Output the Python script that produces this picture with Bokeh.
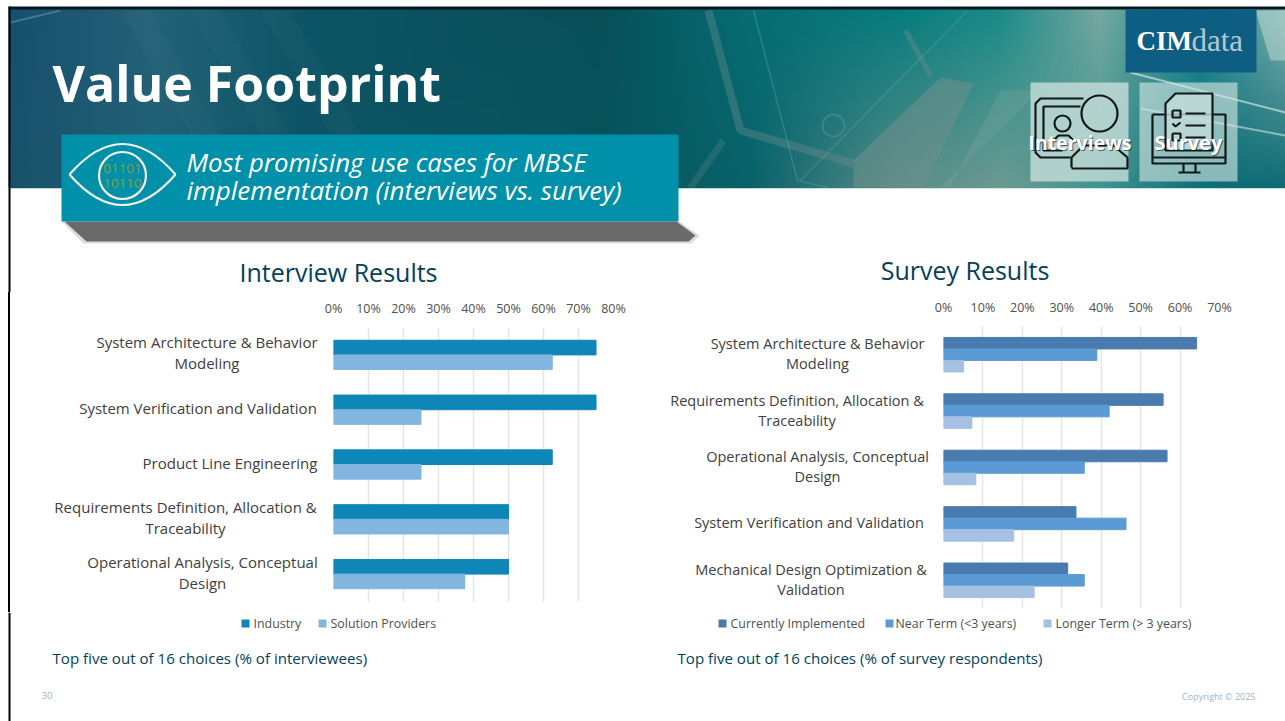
import numpy as np
from bokeh.embed import file_html
from bokeh.layouts import column, row
from bokeh.models import ColumnDataSource, FactorRange, FixedTicker, PrintfTickFormatter, Range1d, Spacer
from bokeh.plotting import figure
from bokeh.resources import INLINE
from bokeh.transform import dodge

# ---------- data ----------
interview_categories = ["System Architecture & Behavior\nModeling", "System Verification and Validation",
                        "Product Line Engineering", "Requirements Definition, Allocation &\nTraceability",
                        "Operational Analysis, Conceptual\nDesign"]
industry = [75, 75, 62.5, 50, 50]
solution_providers = [62.5, 25, 25, 50, 37.5]

survey_categories = ["System Architecture & Behavior\nModeling", "Requirements Definition, Allocation &\nTraceability",
                     "Operational Analysis, Conceptual\nDesign", "System Verification and Validation",
                     "Mechanical Design Optimization &\nValidation"]
currently_implemented = [64.2, 55.7, 56.7, 33.6, 31.5]
near_term = [38.9, 42.0, 35.7, 46.3, 35.7]
longer_term = [5.1, 7.2, 8.2, 17.8, 23.0]

interview_ticks = [0, 10, 20, 30, 40, 50, 60, 70, 80]
survey_ticks = [0, 10, 20, 30, 40, 50, 60, 70]

# ---------- style ----------
FONT = "Open Sans"
W, H = 1285, 721
HEADER_B, ROW_B = 292, 612
TEXT = "#404040"
LEG = "#505050"
NAVY = "#03415A"
GRID = "#E4E6E8"
C_IND, C_SOL = "#0F86B8", "#82B5DF"
C_CUR, C_NEAR, C_LONG = "#4A7BAE", "#5B9BD5", "#A6C0E3"


def canvas(x0, x1, y0, y1):
    p = figure(width=x1 - x0, height=y1 - y0, x_range=Range1d(x0, x1), y_range=Range1d(y1, y0),
               x_axis_type=None, y_axis_type=None, toolbar_location=None, output_backend="svg",
               min_border=0, outline_line_color=None)
    p.grid.visible = False
    return p


def txt(p, x, y, s, size, color="#ffffff", style="normal", font=FONT, align="left", alpha=1.0, lh=1.2, dy=0):
    p.text([x], [y], text=[s], text_font=dict(value=font), text_font_size=dict(value=f"{size}px"),
           text_font_style=style, text_color=color, text_align=align, text_baseline="middle", text_alpha=alpha,
           text_line_height=lh, y_offset=dy)


def edge(p, y0, y1):
    p.patch([8, 10, 10, 8], [y0, y0, y1, y1], color="#000000", line_color=None)


# ---------- header ----------
head = canvas(0, W, 0, HEADER_B)
xs = np.array([8, 150, 300, 450, 600, 750, 900, 1000, 1100, 1200, 1285])
top_c = np.array([[0x17, 0x4f, 0x6e], [0x24, 0x62, 0x78], [0x0d, 0x55, 0x66], [0x0b, 0x51, 0x60], [0x08, 0x4f, 0x58],
                  [0x06, 0x6d, 0x74], [0x07, 0x7c, 0x7e], [0x1a, 0x8b, 0x88], [0x76, 0xa8, 0xa0], [0x1b, 0x8a, 0x90],
                  [0x7f, 0xb0, 0xae]], float)
bot_c = np.array([[0x18, 0x52, 0x6a], [0x22, 0x60, 0x76], [0x0d, 0x55, 0x66], [0x0b, 0x55, 0x62], [0x08, 0x55, 0x5c],
                  [0x08, 0x62, 0x6a], [0x5a, 0x8c, 0x88], [0x6c, 0x9a, 0x92], [0x3f, 0x95, 0x90], [0x0f, 0x70, 0x78],
                  [0x0f, 0x6a, 0x74]], float)
px = np.arange(8, W, 4)
ny = 45
img = np.zeros((ny, len(px)), dtype=np.uint32)
view = img.view(dtype=np.uint8).reshape((ny, len(px), 4))
for ch in range(3):
    t_row = np.interp(px, xs, top_c[:, ch])
    b_row = np.interp(px, xs, bot_c[:, ch])
    for j in range(ny):
        view[j, :, ch] = (t_row + (b_row - t_row) * j / (ny - 1)).astype(np.uint8)
view[:, :, 3] = 255
head.image_rgba(image=[img], x=8, y=8, dw=W - 8, dh=180)

# streaks in the photo
band = "#6f8f8c"
head.patch([853, 940, 973, 923, 853], [160, 77, 83, 187, 187], color=band, alpha=0.55, line_color=None)
head.patch([940, 1040, 1000, 950], [187, 90, 90, 187], color="#7fa59e", alpha=0.3, line_color=None)
head.line([708, 740, 853], [10, 130, 163], color=band, alpha=0.38, line_width=8)
head.line([723, 690], [140, 187], color=band, alpha=0.25, line_width=7)
head.line([753, 797, 827], [10, 180, 187], color="#5fa0a0", alpha=0.4, line_width=1.5)
head.line([967, 800], [10, 180], color="#5fa0a0", alpha=0.4, line_width=1.5)
head.line([905, 930], [30, 75], color=band, alpha=0.4, line_width=5)
head.circle([833], [125], radius=11, fill_color=None, line_color="#5fa0a0", line_alpha=0.5, line_width=1.5)
head.line([10, 60], [22, 10], color="#6a9db0", alpha=0.5, line_width=2)
for x0 in (120, 190, 260):
    head.patch([x0, x0 + 30, x0 + 130, x0 + 100], [10, 10, 187, 187], color="#7aa5b0", alpha=0.05, line_color=None)
head.line([1130, 1285], [72, 112], color="#cfe3e0", alpha=0.7, line_width=2)
head.line([1140, 1285], [108, 135], color="#cfe3e0", alpha=0.6, line_width=2)
head.patch([1255, 1285, 1285, 1270], [10, 10, 60, 60], color="#c5ddd8", alpha=0.5, line_color=None)

# black slide edge, white lower part
head.patch([8, W, W, 8], [6, 6, 9, 9], color="#04181f", line_color=None)
head.patch([8, W, W, 8], [188, 188, HEADER_B, HEADER_B], color="#ffffff", line_color=None)
edge(head, 6, HEADER_B)

txt(head, 52, 82, "Value Footprint", 50, style="bold")

# shadow + teal box
head.patch([61, 679, 699, 691, 83], [221, 221, 235, 243, 243], color="#8a8a8a", alpha=0.3, line_color=None)
head.patch([64, 676, 695, 688, 86], [221, 221, 235, 241, 241], color="#6a6a6a", line_color=None)
head.patch([61, 678, 678, 61], [134, 134, 221, 221], color="#0090A9", line_color=None)
txt(head, 186, 161, "Most promising use cases for MBSE", 25.8, style="italic")
txt(head, 186, 189, "implementation (interviews vs. survey)", 26, style="italic")

# eye
head.quadratic([69, 69], [174, 174], [175, 175], [174, 174], [122, 122], [113, 235],
               line_color="#f3f3ee", line_width=2.2)
head.circle([122], [175], radius=23.5, fill_color=None, line_color="#f3f3ee", line_width=2.2)
txt(head, 122, 168, "01101", 13.5, color="#8f9a3a", align="center")
txt(head, 122, 183, "10110", 13.5, color="#8f9a3a", align="center")

# CIMdata logo
head.patch([1125, 1256, 1256, 1125], [9, 9, 72, 72], color="#0E5D83", line_color=None)
txt(head, 1136, 40, "CIM", 27, style="bold", font="Liberation Serif")
txt(head, 1191, 40, "data", 31, color="#b4c8d2", font="Liberation Serif")

# icon tiles
head.patch([1030, 1128, 1128, 1030], [82, 82, 181, 181], color="#d5e6e2", alpha=0.72, line_color=None)
head.patch([1139, 1237, 1237, 1139], [82, 82, 181, 181], color="#d5e6e2", alpha=0.62, line_color=None)
ICON = dict(line_color="#101818", line_width=2.2)
head.line([1083, 1040, 1035, 1035, 1040, 1070], [98, 98, 103, 152, 157, 157], **ICON)
head.line([1080, 1043, 1043, 1062], [106, 106, 150, 150], **ICON)
head.circle([1099], [113], radius=18, fill_color=None, **ICON)
head.circle([1062], [123], radius=8, fill_color=None, **ICON)
head.line([1051, 1051, 1058, 1068, 1074], [150, 142, 135, 135, 141], **ICON)
head.line([1071, 1071, 1083, 1113, 1127, 1127, 1071], [167, 157, 145, 145, 157, 168, 168], **ICON)
head.line([1152, 1225, 1225, 1152, 1152], [114, 114, 163, 163, 114], **ICON)
head.line([1152, 1225], [157, 157], **ICON)
head.line([1183, 1183], [163, 172], **ICON)
head.line([1195, 1195], [163, 172], **ICON)
head.line([1178, 1200], [172, 172], **ICON)
head.patch([1175, 1212, 1212, 1165, 1165], [93, 93, 150, 150, 103], fill_color="#c3dcd8", fill_alpha=0.8, **ICON)
head.line([1172, 1180, 1180, 1172, 1172], [110, 110, 117, 117, 110], **ICON)
head.line([1172, 1180, 1180, 1172, 1172], [133, 133, 140, 140, 133], **ICON)
head.line([1172, 1175, 1180], [123, 126, 122], **ICON)
for yy in (113, 125, 137):
    head.line([1185, 1205], [yy, yy], **ICON)
for x0, s, sz in ((1028, "Interviews", 19.5), (1154, "Survey", 20)):
    txt(head, x0 + 1, 143, s, sz, color="#000000", style="bold", alpha=0.55)
    txt(head, x0, 142, s, sz, style="bold")

# chart titles
txt(head, 338, 271, "Interview Results", 25, color=NAVY, align="center")
txt(head, 964.5, 269, "Survey Results", 25, color=NAVY, align="center")


# ---------- charts ----------
def chart(width, fleft, fright, ftop, fbottom, cats, ticks, xmax, standoff):
    p = figure(width=width, height=ROW_B - HEADER_B, x_range=Range1d(0, xmax),
               y_range=FactorRange(factors=cats[::-1]), x_axis_location="above",
               toolbar_location=None, output_backend="svg", outline_line_color=None,
               min_border_left=fleft, min_border_right=fright, min_border_top=ftop, min_border_bottom=fbottom)
    p.yaxis.visible = False
    p.ygrid.visible = False
    ax = p.xaxis[0]
    ax.ticker = FixedTicker(ticks=ticks)
    ax.formatter = PrintfTickFormatter(format="%d%%")
    ax.axis_line_color = None
    ax.major_tick_line_color = None
    ax.minor_tick_line_color = None
    ax.major_tick_out = 0
    ax.major_label_standoff = standoff
    ax.major_label_text_font = FONT
    ax.major_label_text_font_size = "12.5px"
    ax.major_label_text_color = LEG
    p.xgrid.ticker = FixedTicker(ticks=ticks)
    p.xgrid.grid_line_color = GRID
    p.xgrid.grid_line_width = 1.5
    return p


def label_panel(x0, x1, cats, centers, chart_fig, size, dy):
    # shares the chart's category range, so each label sits on its row
    p = figure(width=x1 - x0, height=ROW_B - HEADER_B, x_range=Range1d(x0, x1), y_range=chart_fig.y_range,
               x_axis_type=None, toolbar_location=None, output_backend="svg", outline_line_color=None,
               min_border_left=0, min_border_right=0, min_border_top=chart_fig.min_border_top,
               min_border_bottom=chart_fig.min_border_bottom)
    p.yaxis.visible = False
    p.grid.visible = False
    for c, cx in zip(cats, centers):
        txt(p, cx, c, c, size, color=TEXT, align="center", lh=1.05, dy=dy)
    return p


left = chart(332, 15, 37, 35, 11, interview_categories, interview_ticks, 80, 11)
src = ColumnDataSource(dict(c=interview_categories, a=industry, b=solution_providers))
bh = 0.267
left.hbar(y=dodge("c", bh / 2, range=left.y_range), left=0, right="a", height=bh, source=src, color=C_IND)
left.hbar(y=dodge("c", -bh / 2, range=left.y_range), left=0, right="b", height=bh, source=src, color=C_SOL)
left_labels = label_panel(10, 318, interview_categories, [206.5, 197.5, 229.5, 185, 202], left, 15, -2)

right = chart(355, 13, 66, 34, 4, survey_categories, survey_ticks, 70, 11)
src2 = ColumnDataSource(dict(c=survey_categories, a=currently_implemented, b=near_term, d=longer_term))
bh2 = 0.204
right.hbar(y=dodge("c", bh2, range=right.y_range), left=0, right="a", height=bh2, source=src2, color=C_CUR)
right.hbar(y="c", left=0, right="b", height=bh2, source=src2, color=C_NEAR)
right.hbar(y=dodge("c", -bh2, range=right.y_range), left=0, right="d", height=bh2, source=src2, color=C_LONG)
right_labels = label_panel(650, 930, survey_categories, [817, 796.5, 817, 808.5, 810.5], right, 14.5, -1)

# ---------- footer: legends + notes ----------
foot = canvas(0, W, ROW_B, H)
edge(foot, ROW_B, H)
for x, tx, col, lab in ((241, 253, C_IND, "Industry"), (318, 330, C_SOL, "Solution Providers"),
                        (718, 730, C_CUR, "Currently Implemented"), (885, 895, C_NEAR, "Near Term (<3 years)"),
                        (1043, 1055, C_LONG, "Longer Term (> 3 years)")):
    foot.patch([x, x + 8, x + 8, x], [619, 619, 627, 627], color=col, line_color=None)
    txt(foot, tx, 623, lab, 12.4, color=LEG)
txt(foot, 52, 657, "Top five out of 16 choices (% of interviewees)", 15.1, color=NAVY)
txt(foot, 677, 657, "Top five out of 16 choices (% of survey respondents)", 15.1, color=NAVY)
txt(foot, 41, 695, "30", 9.5, color="#9DB4C8")
txt(foot, 1255, 696, "Copyright © 2025", 9, color="#9DB4C8", align="right")

pad = Spacer(width=8, height=ROW_B - HEADER_B)
line = Spacer(width=2, height=ROW_B - HEADER_B, styles={"background-color": "#000000"})
left_group = row(pad, line, left_labels, left, spacing=0)
right_group = row(right_labels, right, spacing=0)
page = column(head, row(left_group, right_group, spacing=0), foot, spacing=0)
open("out.html", "w").write(file_html(page, INLINE))
